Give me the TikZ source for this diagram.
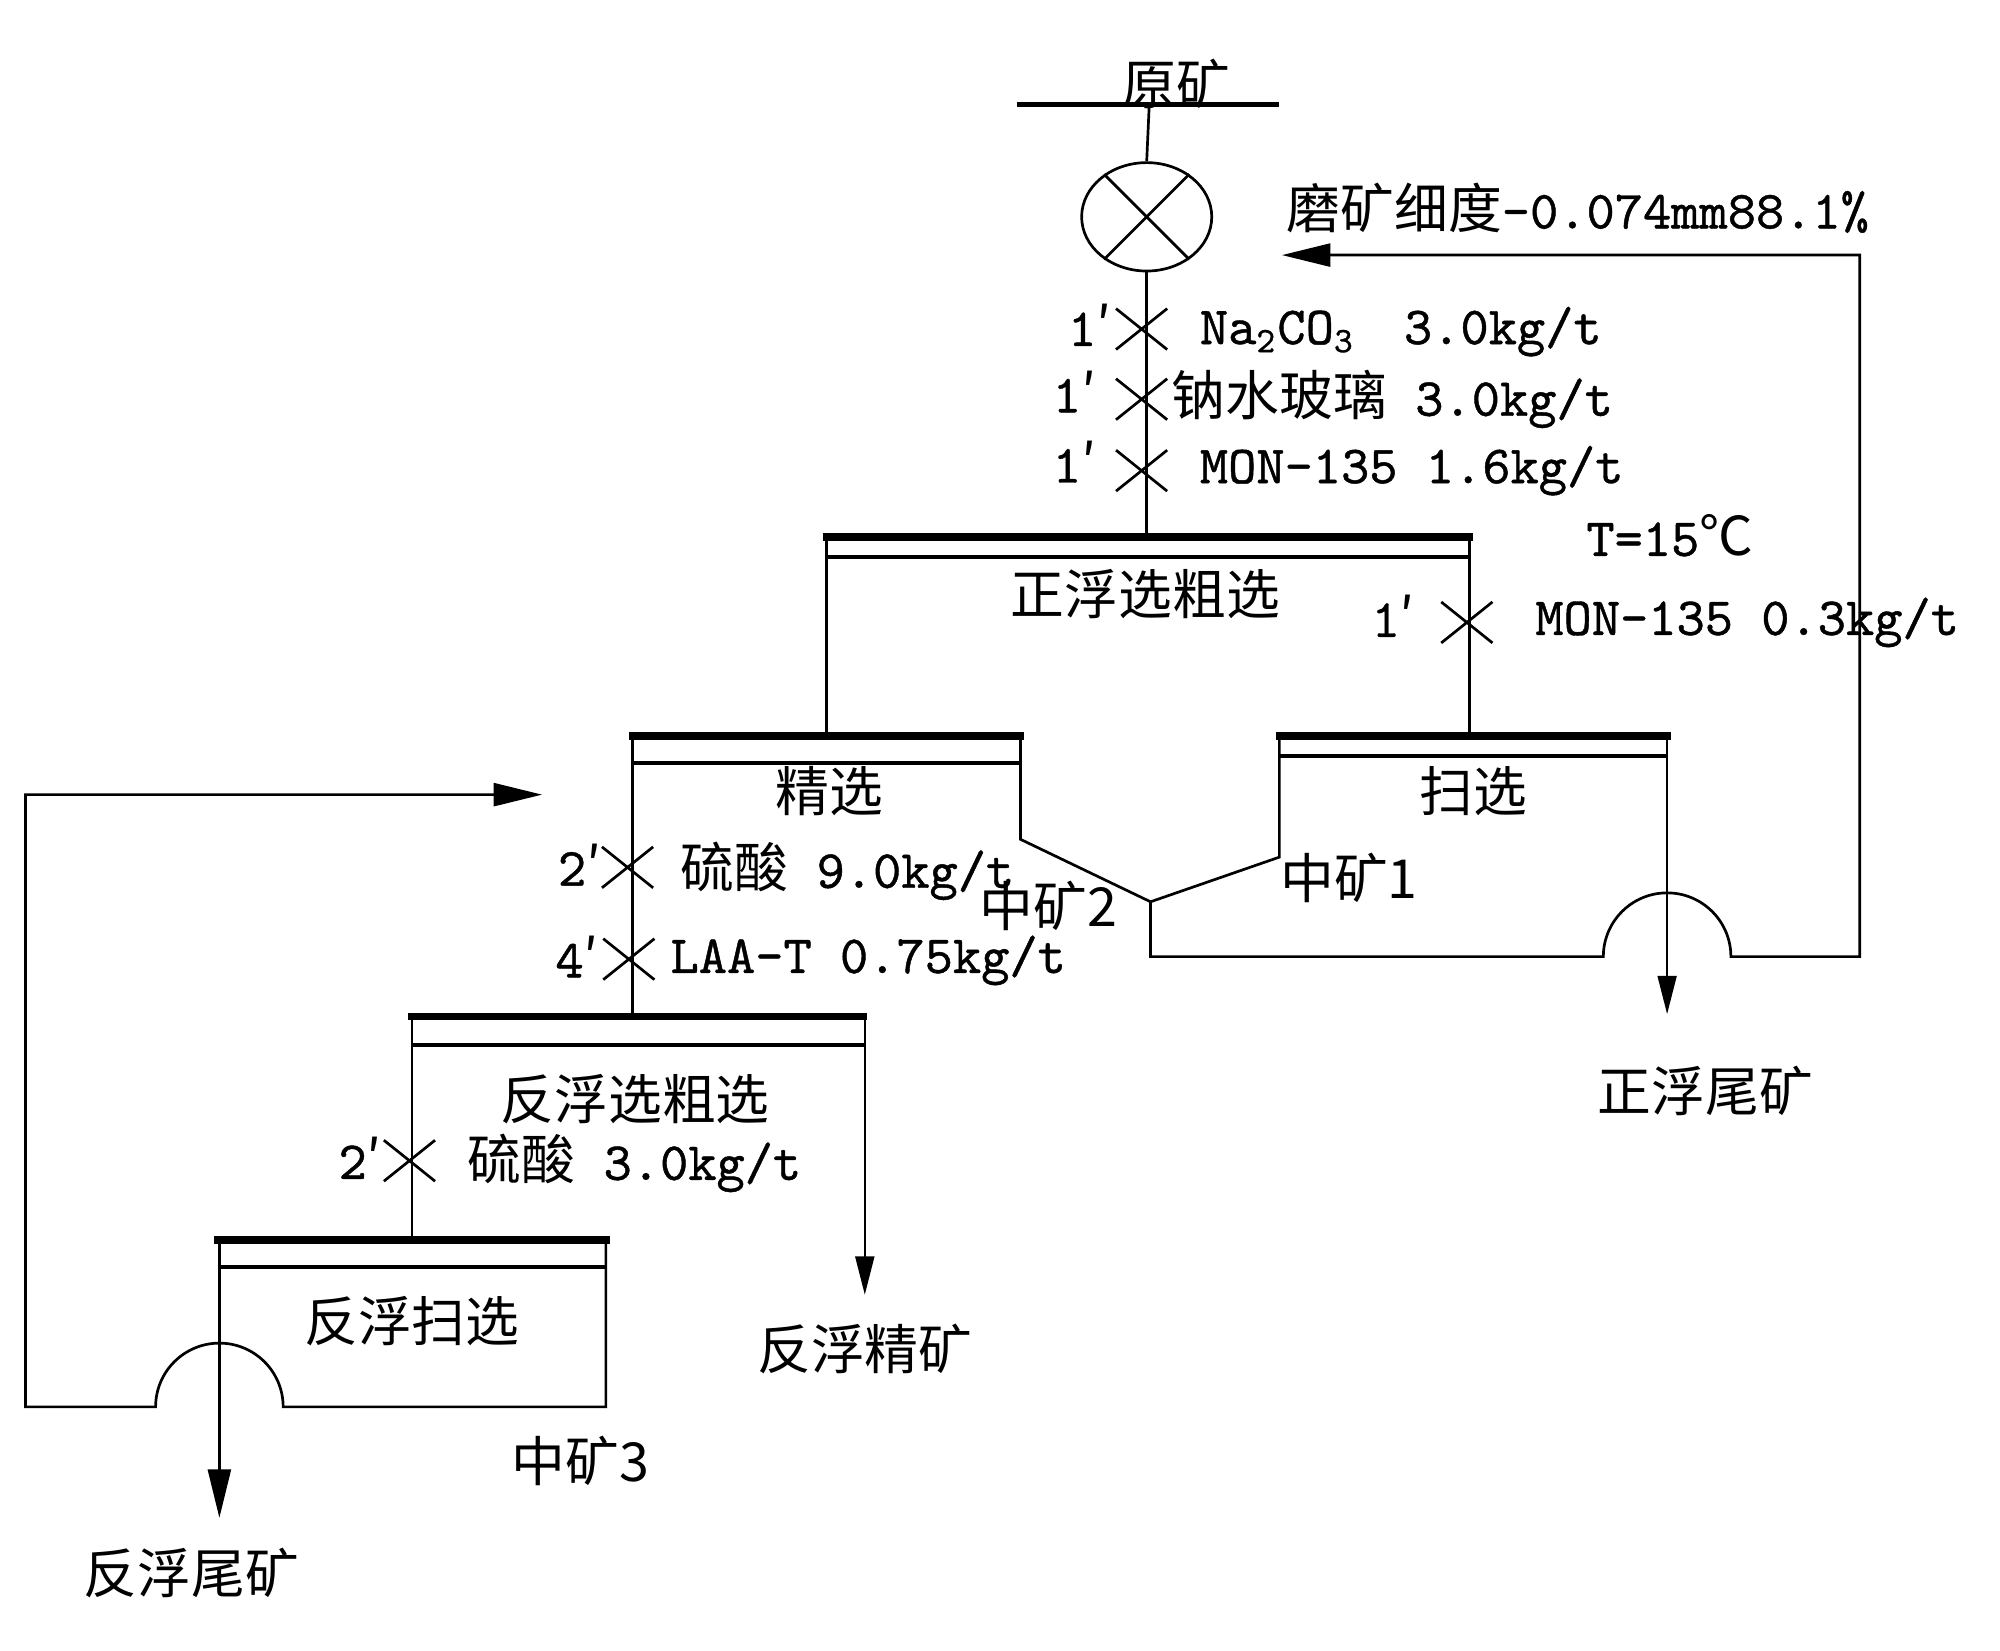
\documentclass[tikz,border=0pt]{standalone}
\usepackage{fontspec}
\setmonofont[FakeBold=0.8]{lmmono10-regular.otf}
\newfontfamily\cjk{Noto Sans CJK SC}
\usetikzlibrary{positioning,shapes.geometric,shapes.misc,arrows.meta}
\tikzset{
  bar/.style={line width=1.7pt},
  subbar/.style={line width=0.9pt},
  flow/.style={line width=0.6pt},
  tail/.style={line width=0.35pt,-{Triangle[length=0.3cm,width=0.15cm]}},
  back/.style={flow,-{Triangle[length=0.38cm,width=0.18cm]}},
  dose/.style={draw,cross out,line width=0.6pt,minimum width=0.38cm,minimum height=0.3cm,inner sep=0pt},
  lbl/.style={inner sep=0pt,font=\fontsize{12}{14}\selectfont\ttfamily},
  cn/.style={inner sep=0pt,font=\fontsize{12}{14}\selectfont\cjk},
}

\begin{document}
\begin{tikzpicture}
\useasboundingbox (0,0) rectangle (15.68,-12.94);

\node[cn] (ore) at (9.22,-0.66) {原矿};
\coordinate (oreL) at (7.97,-0.82);
\coordinate (oreR) at (10.03,-0.82);
\coordinate (feed) at (9.01,-0.82);
\draw[line width=1.3pt] (oreL) -- (oreR);
\node[draw,ellipse,flow,minimum width=1.02cm,minimum height=0.85cm,inner sep=0pt] (mill) at (8.99,-1.70) {};
\draw[flow] (mill.135) -- (mill.-45) (mill.45) -- (mill.-135);
\draw[flow] (feed) -- (mill.north);
\node[lbl,anchor=west] (grind) at (10.08,-1.63) {{\cjk 磨矿细度}-0.074mm88.1\%};

\coordinate (rghF) at (8.99,-4.21);
\draw[flow] (mill.south) -- (rghF);
\node[dose] (d1) at (8.95,-2.58) {};
\node[dose] (d2) at (8.95,-3.13) {};
\node[dose] (d3) at (8.95,-3.69) {};
\node[lbl,anchor=east] (n1) at (8.72,-2.55) {1{\cjk ′}};
\node[lbl,anchor=east] (n2) at (8.60,-3.07) {1{\cjk ′}};
\node[lbl,anchor=east] (n3) at (8.60,-3.62) {1{\cjk ′}};
\node[lbl,anchor=west] (soda) at (9.40,-2.60) {Na\textsubscript{2}CO\textsubscript{3}};
\node[lbl,anchor=west] (sodaq) at (11.00,-2.60) {3.0kg/t};
\node[lbl,anchor=west] (glass) at (9.18,-3.13) {{\cjk 钠水玻璃} 3.0kg/t};
\node[lbl,anchor=west] (mon1) at (9.40,-3.69) {MON-135 1.6kg/t};
\node[lbl,anchor=west] (temp) at (12.43,-4.20) {T=15{\cjk ℃}};

\coordinate (rghL) at (6.48,-4.21);
\coordinate (rghR) at (11.52,-4.21);
\draw[bar] (6.45,-4.21) -- (11.55,-4.21);
\draw[subbar] (6.48,-4.37) -- (11.52,-4.37);
\node[cn] (rgh) at (8.98,-4.66) {正浮选粗选};
\node[dose] (d4) at (11.50,-4.88) {};
\node[lbl,anchor=east] (n4) at (11.10,-4.83) {1{\cjk ′}};
\node[lbl,anchor=west] (mon2) at (12.03,-4.88) {MON-135 0.3kg/t};

\coordinate (clnT) at (6.48,-5.77);
\coordinate (clnL) at (4.96,-5.77);
\coordinate (clnR) at (8.00,-5.77);
\coordinate (mid) at (9.02,-7.07);
\draw[bar] (4.93,-5.77) -- (8.03,-5.77);
\draw[subbar] (4.96,-5.98) -- (8.00,-5.98);
\draw[flow] (rghL) -- (clnT);
\draw[flow] (clnR) -- (8.00,-6.58) -- (mid);
\node[cn] (cln) at (6.50,-6.20) {精选};

\coordinate (scvT) at (11.52,-5.77);
\coordinate (scvL) at (10.03,-5.77);
\coordinate (scvR) at (13.07,-5.77);
\coordinate (scvO) at (13.07,-7.95);
\draw[bar] (10.00,-5.77) -- (13.10,-5.77);
\draw[subbar] (10.03,-5.93) -- (13.07,-5.93);
\draw[flow] (rghR) -- (scvT);
\draw[flow] (scvL) -- (10.03,-6.72) -- (mid);
\draw[tail] (scvR) -- (scvO);
\node[cn] (scv) at (11.55,-6.20) {扫选};
\coordinate (millR) at (10.05,-2.00);
\draw[back] (mid) -- (9.02,-7.50) -- (12.57,-7.50) arc[start angle=180,end angle=0,radius=0.5] -- (14.58,-7.50) -- (14.58,-2.00) -- (millR);
\node[cn,anchor=west] (m1) at (10.03,-6.88) {中矿1};
\node[cn] (m2) at (8.22,-7.10) {中矿2};
\node[cn] (tail1) at (13.37,-8.55) {正浮尾矿};

\node[dose] (d5) at (4.92,-6.80) {};
\node[dose] (d6) at (4.93,-7.52) {};
\node[lbl,anchor=east] (n5) at (4.72,-6.78) {2{\cjk ′}};
\node[lbl,anchor=east] (n6) at (4.70,-7.50) {4{\cjk ′}};
\node[lbl,anchor=west] (acid1) at (5.33,-6.83) {{\cjk 硫酸} 9.0kg/t};
\node[lbl,anchor=west] (laa) at (5.25,-7.53) {LAA-T 0.75kg/t};

\coordinate (rvrT) at (4.96,-7.97);
\coordinate (rvrL) at (3.23,-7.97);
\coordinate (rvrR) at (6.78,-7.97);
\coordinate (rvrO) at (6.78,-10.15);
\draw[bar] (3.20,-7.97) -- (6.80,-7.97);
\draw[subbar] (3.23,-8.19) -- (6.77,-8.19);
\draw[flow] (clnL) -- (rvrT);
\draw[tail] (rvrR) -- (rvrO);
\node[cn] (rvr) at (4.98,-8.62) {反浮选粗选};
\node[dose] (d7) at (3.21,-9.10) {};
\node[lbl,anchor=east] (n7) at (3.00,-9.08) {2{\cjk ′}};
\node[lbl,anchor=west] (acid2) at (3.66,-9.12) {{\cjk 硫酸} 3.0kg/t};
\node[cn] (conc) at (6.78,-10.58) {反浮精矿};

\coordinate (rvsT) at (3.23,-9.72);
\coordinate (rvsL) at (1.72,-9.72);
\coordinate (rvsR) at (4.75,-9.72);
\coordinate (rvsO) at (1.72,-11.90);
\coordinate (clnI) at (4.25,-6.23);
\draw[bar] (1.68,-9.72) -- (4.78,-9.72);
\draw[subbar] (1.72,-9.93) -- (4.75,-9.93);
\draw[flow] (rvrL) -- (rvsT);
\draw[back] (rvsL) -- (rvsO);
\draw[back] (rvsR) -- (4.75,-11.03) -- (2.22,-11.03) arc[start angle=0,end angle=180,radius=0.5] -- (0.20,-11.03) -- (0.20,-6.23) -- (clnI);
\node[cn] (rvs) at (3.23,-10.36) {反浮扫选};
\node[cn] (m3) at (4.55,-11.45) {中矿3};
\node[cn] (tail2) at (1.50,-12.33) {反浮尾矿};
\end{tikzpicture}
\end{document}
